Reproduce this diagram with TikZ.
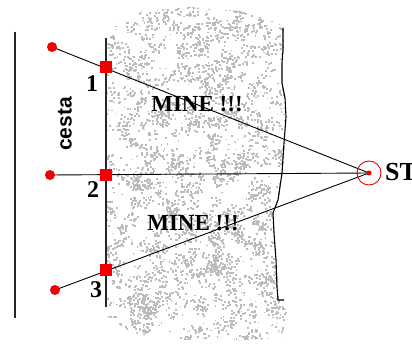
\documentclass[tikz,border=0pt]{standalone}
\usepackage{fontspec}
\setmainfont{Liberation Serif}
\newfontfamily\sansbold{Liberation Sans}
\definecolor{texgrey}{RGB}{188,188,188}
\definecolor{mred}{RGB}{240,0,0}
\pgfdeclarelayer{bg}
\pgfdeclarelayer{tex}
\pgfsetlayers{tex,bg,main}
\tikzset{
  dot/.style={circle,fill=mred,inner sep=0pt,minimum size=10pt},
  sq/.style={rectangle,fill=mred,inner sep=0pt,minimum size=11.5pt},
  ring/.style={circle,draw=mred,line width=0.9pt,inner sep=0pt,minimum size=24pt},
  cdot/.style={circle,fill=mred,inner sep=0pt,minimum size=5pt},
  ray/.style={draw=black,line width=0.9pt},
  wall/.style={draw=black!85,line width=1.2pt},
  num/.style={font=\bfseries\fontsize{24}{26}\selectfont,inner sep=0pt},
  mine/.style={font=\bfseries\fontsize{23}{25}\selectfont,inner sep=0pt},
}
\begin{document}
\begin{tikzpicture}[x=1pt,y=-1pt]
\useasboundingbox (0,0) rectangle (412,344);
% texture
\begin{pgfonlayer}{tex}
\fill[white] (0,0) rectangle (412,344);
\begin{scope}
\clip (107,45) -- (115,25) -- (140,12) -- (190,7) -- (240,11) -- (275,20) -- (284,28)
  -- (284,50) -- (283,63) -- (283,83) -- (286,98) -- (287,117) -- (285,143) -- (283,173)
  -- (279,200) -- (274,213) -- (275,233) -- (277,260) -- (278,287) -- (279,300)
  -- (287,312) -- (282,338) -- (230,341) -- (160,339) -- (130,332) -- (107,316) -- cycle;
\pgfmathsetseed{17}
\foreach \i in {1,...,420}{
  \pgfmathsetmacro{\cx}{104+rnd*186}
  \pgfmathsetmacro{\cy}{5+rnd*338}
  \foreach \j in {1,...,9}{
    \fill[texgrey] ({\cx+rnd*11-5.5},{\cy+rnd*11-5.5}) rectangle +(2,2);
  }
}
\foreach \i in {1,...,700}{
  \fill[texgrey] ({104+rnd*186},{5+rnd*338}) rectangle +(1.5,1.5);
}
\end{scope}
\end{pgfonlayer}
% walls
\coordinate (l1) at (15,32);
\coordinate (l2) at (15,318);
\coordinate (v1) at (106,38);
\coordinate (v2) at (106,307);
\draw[wall] (l1) -- (l2);
\draw[wall] (v1) -- (v2);
\coordinate (w0) at (283,28);
\coordinate (w1) at (284,300);
\draw[line width=1.1pt] (w0) -- (283,50) -- (282,63) -- (282,83) -- (285,98) -- (286,117)
  -- (284,143) -- (282,173) -- (278,200) -- (273,213) -- (274,233) -- (276,260)
  -- (277,287) -- (278,300) -- (w1);
% nodes
\node[dot] (d1) at (52,47) {};
\node[dot] (d2) at (50,175) {};
\node[dot] (d3) at (55,290) {};
\node[sq] (s1) at (106,67) {};
\node[sq] (s2) at (106,175) {};
\node[sq] (s3) at (106,270) {};
\node[ring] (t) at (369,173) {};
\node[cdot] (tc) at (369,173) {};
\node[font=\bfseries\fontsize{26}{28}\selectfont,anchor=west,inner sep=0pt] (st) at (385,172) {ST};
\node[num] (n1) at (92,84) {1};
\node[num] (n2) at (93,190) {2};
\node[num] (n3) at (96,290) {3};
\node[font=\sansbold\bfseries\fontsize{21}{23}\selectfont,rotate=90,inner sep=0pt] (ce) at (65,124) {cesta};
\node[mine] (m1) at (197,104) {MINE !!!};
\node[mine] (m2) at (193,223) {MINE !!!};
\begin{pgfonlayer}{bg}
\draw[ray] (d1.center) -- (tc.center);
\draw[ray] (d2.center) -- (tc.center);
\draw[ray] (d3.center) -- (tc.center);
\end{pgfonlayer}
\end{tikzpicture}
\end{document}
